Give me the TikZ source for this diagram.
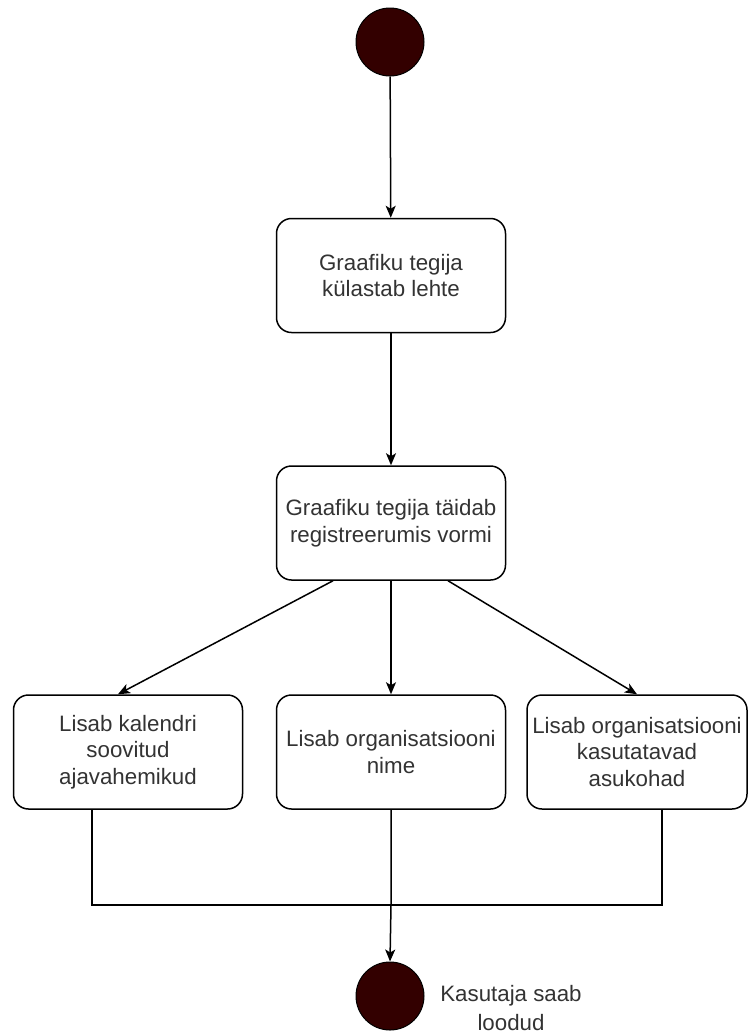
\documentclass[tikz,border=0pt]{standalone}
\usepackage{fontspec}
\setmainfont{Liberation Sans}
\usetikzlibrary{arrows.meta,calc}
\definecolor{nodefill}{HTML}{330000}
\definecolor{txt}{HTML}{333333}
\begin{document}
\begin{tikzpicture}[x=1pt,y=-1pt,
  every node/.style={font=\fontsize{22.3}{26.5}\selectfont, text=txt, inner sep=0pt},
  actbox/.style={draw=black, line width=1.5pt, rounded corners=15pt, fill=white,
    minimum height=114pt, align=center},
  dot/.style={circle, draw=black, line width=1pt, fill=nodefill, minimum size=68pt},
  flow/.style={draw=black, line width=1.5pt, -{Stealth[length=12pt,width=10pt,inset=3pt]}},
  wire/.style={draw=black, line width=1.5pt}]
\useasboundingbox (0,0) rectangle (748,1034);

% start and end states
\node[dot] (start) at (390,42) {};
\node[dot] (stop) at (390,996) {};
\node[align=center, font=\fontsize{22.3}{28.5}\selectfont] (lbl) at (511,1008) {Kasutaja saab\\loodud};

% activities
\node[actbox, minimum width=229pt] (b1) at (391,275.5) {Graafiku tegija\\külastab lehte};
\node[actbox, minimum width=229pt] (b2) at (391,523) {Graafiku tegija täidab\\registreerumis vormi};
\node[actbox, minimum width=229pt] (ba) at (128,752) {Lisab kalendri\\soovitud\\ajavahemikud};
\node[actbox, minimum width=229pt] (bb) at (391,752) {Lisab organisatsiooni\\nime};
\node[actbox, minimum width=220pt] (bc) at (637,752) {Lisab organisatsiooni\\kasutatavad\\asukohad};

% control flow
\draw[flow] (start) -- (b1);
\draw[flow] (b1) -- (b2);
\draw[flow] ([xshift=-58pt]b2.south) -- ([xshift=-10pt]ba.north);
\draw[flow] (b2) -- (bb);
\draw[flow] ([xshift=57pt]b2.south) -- (bc.north);

% merge of the three branches
\coordinate (join) at (391,905);
\draw[wire] ([xshift=-36pt]ba.south) |- (join);
\draw[wire] ([xshift=25pt]bc.south) |- (join);
\draw[flow] (bb.south) -- (join) -- (stop.north);
\end{tikzpicture}
\end{document}
